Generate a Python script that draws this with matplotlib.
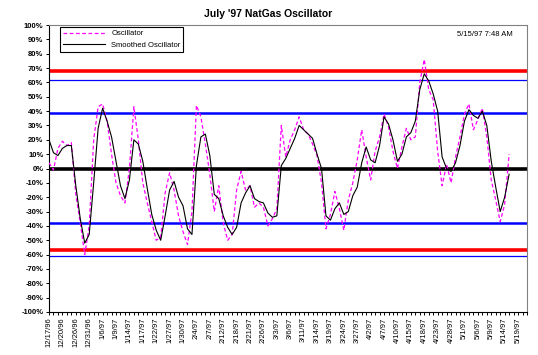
import matplotlib
matplotlib.use('Agg')
import matplotlib.pyplot as plt
import numpy as np

# trading-day labels (every 3rd category)
tick_labels = ['12/17/96', '12/20/96', '12/26/96', '12/31/96', '1/6/97', '1/9/97', '1/14/97',
               '1/17/97', '1/22/97', '1/27/97', '1/30/97', '2/4/97', '2/7/97', '2/12/97',
               '2/18/97', '2/21/97', '2/26/97', '3/3/97', '3/6/97', '3/11/97', '3/14/97',
               '3/19/97', '3/24/97', '3/27/97', '4/2/97', '4/7/97', '4/10/97', '4/15/97',
               '4/18/97', '4/23/97', '4/28/97', '5/1/97', '5/6/97', '5/9/97', '5/14/97', '5/19/97']
n_categories = 108

oscillator = [4, -1, 14, 19, 16, 18, -18, -38, -60, -40,
              20, 43, 45, 33, 10, -10, -19, -24, 0, 43,
              20, -10, -24, -37, -50, -48, -17, -3, -15, -33,
              -44, -53, -30, 44, 36, 17, -4, -30, -12, -38,
              -50, -46, -15, -2, -15, -12, -27, -24, -27, -40,
              -35, -28, 30, 8, 20, 27, 36, 27, 24, 17,
              9, -10, -42, -32, -16, -28, -43, -22, -10, 6,
              27, 8, -8, 12, 22, 38, 29, 12, 0, 15,
              28, 20, 22, 60, 76, 55, 48, 12, -12, 3,
              -10, 8, 22, 38, 45, 27, 34, 42, 22, -8,
              -22, -37, -25, 10]

smoothed = [20, 11, 9, 14, 16, 16, -12, -35, -52, -46,
            -10, 28, 42, 33, 22, 5, -12, -21, -8, 20,
            17, 5, -14, -32, -43, -50, -33, -15, -9, -20,
            -26, -42, -46, 2, 22, 24, 9, -18, -21, -33,
            -41, -46, -41, -24, -17, -12, -21, -23, -24, -31,
            -34, -33, 2, 7, 14, 21, 30, 27, 24, 21,
            10, 0, -33, -36, -28, -24, -32, -30, -19, -13,
            4, 15, 6, 4, 16, 36, 31, 20, 5, 10,
            22, 25, 33, 55, 66, 61, 52, 40, 8, 0,
            -2, 4, 16, 33, 41, 37, 35, 40, 30, 5,
            -13, -30, -20, -4]

red_levels = [68, -57]
blue_thick = [39, -38]
blue_thin = [62, -61]

plt.rcParams['font.family'] = ['Liberation Sans', 'DejaVu Sans']

fig = plt.figure(figsize=(5.38, 3.55), dpi=100)
ax = fig.add_axes([49/538, 1-312/355, 478/538, 287/355])

for v in red_levels:
    ax.axhline(v, color='#ff0000', lw=2.6, zorder=1)
for v in blue_thick:
    ax.axhline(v, color='#0000ff', lw=1.8, zorder=1)
for v in blue_thin:
    ax.axhline(v, color='#0000ff', lw=0.9, zorder=1)
ax.axhline(0, color='black', lw=2.6, zorder=1)

x = np.arange(len(oscillator))
ax.plot(x, oscillator, color='#ff00ff', lw=0.9, ls=(0, (3, 2)), label='Oscillator', zorder=3)
ax.plot(np.arange(len(smoothed)), smoothed, color='black', lw=0.8, label='Smoothed Oscillator', zorder=4)

ax.set_xlim(0, n_categories - 1)
ax.set_ylim(-100, 100)
ax.set_yticks(np.arange(-100, 101, 10))
ax.set_yticklabels(['%d%%' % v for v in np.arange(-100, 101, 10)], fontsize=5.5, fontweight='bold')
ax.set_xticks(np.arange(0, 3*len(tick_labels), 3))
ax.set_xticklabels(tick_labels, rotation=90, fontsize=5.5)
ax.set_xticks(np.arange(0, n_categories), minor=True)
ax.tick_params(axis='both', which='both', direction='out', length=2.5, width=0.7, pad=1.5)

for s in ['top', 'right']:
    ax.spines[s].set_color('#808080')
    ax.spines[s].set_linewidth(0.8)
for s in ['left', 'bottom']:
    ax.spines[s].set_color('black')
    ax.spines[s].set_linewidth(0.8)

leg = ax.legend(loc='upper left', bbox_to_anchor=(0.023, 0.993), fontsize=5.5,
                fancybox=False, framealpha=1, edgecolor='black', borderaxespad=0,
                handlelength=5.5, borderpad=0.4, labelspacing=0.5)
leg.get_frame().set_linewidth(0.8)

fig.text(268/538, 1-14/355, "July '97 NatGas Oscillator", ha='center', va='center',
         fontsize=7.5, fontweight='bold')
fig.text(513/538, 1-34/355, '5/15/97 7:48 AM', ha='right', va='center', fontsize=5.5)

fig.savefig('out.png', dpi=100)
